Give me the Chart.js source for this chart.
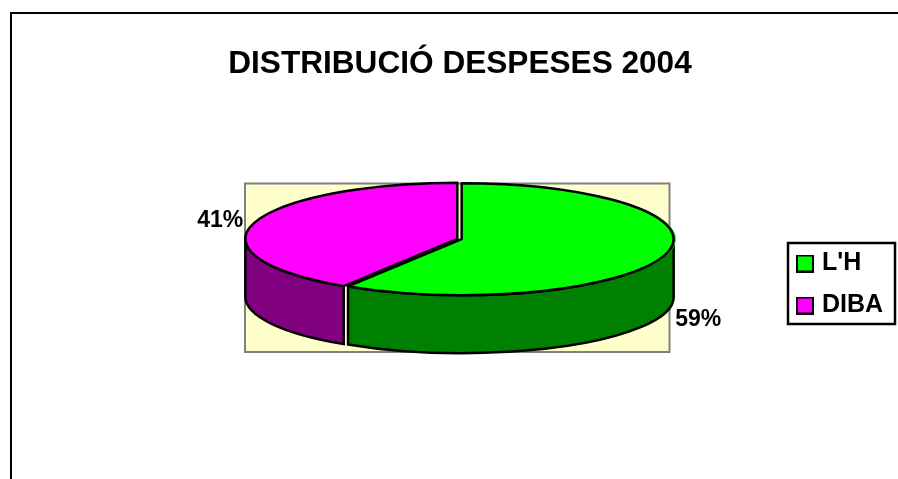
<!DOCTYPE html>
<html>
<head>
<meta charset="utf-8">
<title>Distribució despeses 2004</title>
<script src="https://cdn.jsdelivr.net/npm/chart.js@4"></script>
<style>
  html, body { margin: 0; padding: 0; background: #fff; }
  canvas { display: block; }
</style>
</head>
<body>
<canvas id="grafic" width="898" height="479"></canvas>
<script>
const titol = "DISTRIBUCIÓ DESPESES 2004";
const categories = ["L'H", "DIBA"];
const percentatges = [59, 41];
const colorsTapa = ["#00ff00", "#ff00ff"];
const colorsParet = ["#008000", "#800080"];

const FONT = "'Liberation Sans', Arial, sans-serif";
const AIXAFAT = 56 / 212;   // relacio entre eixos de l'el·lipse
const GRUIX = 58;           // alcada de la paret del pastis
const CENTRE_Y = 239;
const TRACA = 2.5;

// punts de l'el·lipse a partir de l'arc que calcula Chart.js
function centreArc(arc) {
  const mig = (arc.startAngle + arc.endAngle) / 2;
  const desp = (arc.options.offset || 0) / 4;
  return { x: arc.x + Math.cos(mig) * desp, y: arc.y + Math.sin(mig) * desp * AIXAFAT, mig };
}

function camiParet(ctx, arc) {
  const c = centreArc(arc);
  const a0 = Math.max(arc.startAngle, 0);
  const a1 = Math.min(arc.endAngle, Math.PI);
  if (a1 <= a0) return false;
  const rx = arc.outerRadius, ry = rx * AIXAFAT;
  ctx.beginPath();
  ctx.ellipse(c.x, c.y, rx, ry, 0, a0, a1);
  ctx.ellipse(c.x, c.y + GRUIX, rx, ry, 0, a1, a0, true);
  ctx.closePath();
  return true;
}

// quadradet de la llegenda: la part buida de l'esquerra acosta el text al quadrat
function quadratLlegenda(color) {
  const c = document.createElement('canvas');
  c.width = 22;
  c.height = 18;
  const g = c.getContext('2d');
  g.fillStyle = color;
  g.strokeStyle = '#000';
  g.lineWidth = 2;
  g.fillRect(5, 1, 16, 16);
  g.strokeRect(5, 1, 16, 16);
  return c;
}

const pastis3d = {
  id: 'pastis3d',
  afterLayout(chart) {
    chart.chartArea = { left: 243, right: 676, top: CENTRE_Y - 216.5, bottom: CENTRE_Y + 216.5, width: 433, height: 433 };
    const t = chart.titleBlock;
    t.left = 0; t.right = 920; t.top = 45; t.bottom = 85;
    // el bottom gran evita que la llegenda salti a una segona columna
    const l = chart.legend;
    l.left = 779.5; l.right = 895; l.top = 234; l.bottom = 470;
  },
  beforeDraw(chart) {
    const ctx = chart.ctx;
    // marc exterior, tallat per la dreta i per baix com a l'original
    ctx.save();
    ctx.strokeStyle = '#000';
    ctx.lineWidth = 2;
    ctx.beginPath();
    ctx.moveTo(11, 479);
    ctx.lineTo(11, 13);
    ctx.lineTo(898, 13);
    ctx.stroke();
    // fons de la zona del grafic
    ctx.fillStyle = '#ffffcc';
    ctx.strokeStyle = '#808080';
    ctx.fillRect(245, 183.5, 424.5, 168.5);
    ctx.strokeRect(245, 183.5, 424.5, 168.5);
    // requadre de la llegenda
    ctx.strokeStyle = '#000';
    ctx.lineWidth = TRACA;
    ctx.strokeRect(788, 243, 107, 81);
    ctx.restore();
  },
  beforeDatasetsDraw(chart) {
    const ctx = chart.ctx;
    const arcs = chart.getDatasetMeta(0).data;
    ctx.save();
    ctx.strokeStyle = '#000';
    ctx.lineWidth = TRACA;
    arcs.forEach((arc, i) => {
      if (camiParet(ctx, arc)) {
        ctx.fillStyle = colorsParet[i];
        ctx.fill();
        ctx.stroke();
      }
    });
    ctx.restore();
    // la tapa la dibuixa Chart.js, aixafada
    ctx.save();
    ctx.translate(0, CENTRE_Y);
    ctx.scale(1, AIXAFAT);
    ctx.translate(0, -CENTRE_Y);
  },
  afterDatasetsDraw(chart) {
    const ctx = chart.ctx;
    ctx.restore();
    const arcs = chart.getDatasetMeta(0).data;
    ctx.save();
    ctx.strokeStyle = '#000';
    ctx.lineWidth = TRACA;
    ctx.lineJoin = 'round';
    arcs.forEach(arc => {
      const c = centreArc(arc);
      const rx = arc.outerRadius, ry = rx * AIXAFAT;
      ctx.beginPath();
      ctx.moveTo(c.x, c.y);
      ctx.ellipse(c.x, c.y, rx, ry, 0, arc.startAngle, arc.endAngle);
      ctx.closePath();
      ctx.stroke();
    });
    // etiquetes de percentatge
    ctx.fillStyle = '#000';
    ctx.font = "bold 23px " + FONT;
    ctx.textBaseline = 'middle';
    arcs.forEach((arc, i) => {
      const c = centreArc(arc);
      const px = c.x + Math.cos(c.mig) * arc.outerRadius;
      const py = c.y + Math.sin(c.mig) * arc.outerRadius * AIXAFAT;
      const text = percentatges[i] + '%';
      if (Math.cos(c.mig) > 0) {
        ctx.textAlign = 'left';
        ctx.fillText(text, px + 10, py + GRUIX + 7);
      } else {
        ctx.textAlign = 'right';
        ctx.fillText(text, px - 10.5, py - 3);
      }
    });
    ctx.restore();
  }
};

new Chart(document.getElementById('grafic'), {
  type: 'pie',
  plugins: [pastis3d],
  data: {
    labels: categories,
    datasets: [{
      data: percentatges,
      backgroundColor: colorsTapa,
      borderWidth: 0,
      offset: 9
    }]
  },
  options: {
    responsive: false,
    animation: false,
    plugins: {
      tooltip: { enabled: false },
      title: {
        display: true,
        text: titol,
        color: '#000',
        font: { family: FONT, size: 31.6, weight: 'bold' },
        padding: 0
      },
      legend: {
        position: 'right',
        align: 'start',
        labels: {
          color: '#000',
          font: { family: FONT, size: 25, weight: 'bold' },
          usePointStyle: true,
          pointStyleWidth: 13,
          boxHeight: 17,
          padding: 17,
          generateLabels(chart) {
            return Chart.overrides.pie.plugins.legend.labels.generateLabels(chart).map((it, i) => {
              it.pointStyle = quadratLlegenda(colorsTapa[i]);
              return it;
            });
          }
        }
      }
    }
  }
});
</script>
</body>
</html>
